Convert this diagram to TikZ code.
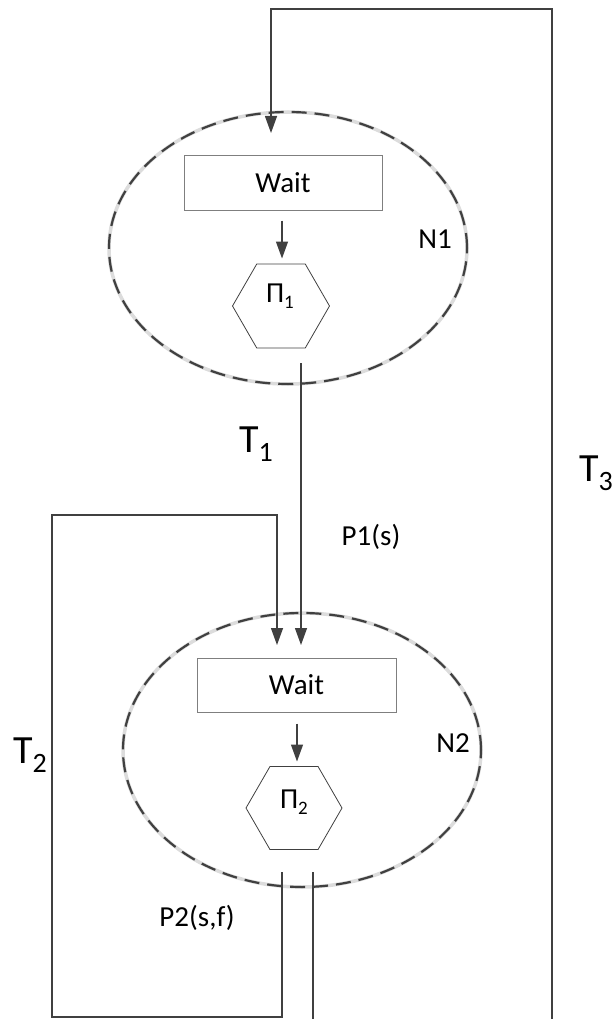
\documentclass[tikz,border=0pt]{standalone}
\usepackage{fontspec}
\setmainfont{Carlito}
\usetikzlibrary{shapes.geometric,arrows.meta}
\definecolor{ln}{HTML}{404040}
\definecolor{bx}{HTML}{7F7F7F}
\definecolor{halo}{HTML}{DCDCDC}
\begin{document}
\begin{tikzpicture}[x=1pt,y=-1pt,
  cluster/.style={ellipse, inner sep=0pt, draw=ln, line width=2.2pt,
    dash pattern=on 15pt off 8pt,
    preaction={draw=halo, line width=3.5pt, solid}},
  waitbox/.style={rectangle, draw=bx, line width=1pt, inner sep=0pt,
    minimum width=198pt, minimum height=54pt,
    font=\fontsize{29}{34}\selectfont},
  hexa/.style={regular polygon, regular polygon sides=6, draw=ln,
    line width=0.8pt, inner sep=0pt, minimum size=97pt},
  lbl/.style={inner sep=0pt, font=\fontsize{29}{34}\selectfont},
  big/.style={inner sep=0pt, font=\fontsize{40}{46}\selectfont},
  conn/.style={draw=ln, line width=1.3pt},
  arr/.style={conn, -{Triangle[length=17pt,width=12pt]}}
]
\useasboundingbox (0,0) rectangle (611,1019);

% cluster N1
\node[cluster, minimum width=358pt, minimum height=272pt] (N1) at (288,248) {};
\node[waitbox] (W1) at (283,183) {Wait};
\node[hexa] (H1) at (281,306) {};
\node[lbl] (PI1) at (280,296) {Π\raisebox{-6pt}{\fontsize{19}{20}\selectfont 1}};
\node[lbl] (N1l) at (435,239) {N1};

% cluster N2
\node[cluster, minimum width=358pt, minimum height=274pt] (N2) at (302,750) {};
\node[waitbox, minimum width=199pt] (W2) at (296.5,685) {Wait};
\node[hexa, minimum size=96pt] (H2) at (294,808) {};
\node[lbl] (PI2) at (294,802) {Π\raisebox{-6pt}{\fontsize{19}{20}\selectfont 2}};
\node[lbl] (N2l) at (453,743) {N2};

% edge labels
\node[big] (T1) at (256,444) {T\raisebox{-9pt}{\fontsize{28}{30}\selectfont 1}};
\node[big, anchor=west] (T3) at (579,473) {T\raisebox{-9pt}{\fontsize{28}{30}\selectfont 3}};
\node[big] (T2) at (30,755) {T\raisebox{-9pt}{\fontsize{28}{30}\selectfont 2}};
\node[lbl] (P1s) at (371,537) {P1(s)};
\node[lbl] (P2sf) at (197,918) {P2(s,f)};

% internal arrows
\draw[arr] ([xshift=-1pt,yshift=-10pt]W1.south) -- ++(0,38);
\draw[arr] ([xshift=0.5pt,yshift=-11pt]W2.south) -- ++(0,38);

% named end points
\coordinate (o1) at (301,363);
\coordinate (i2b) at (301,645);
\coordinate (i2a) at (277,645);
\coordinate (o2a) at (282,872);
\coordinate (o2b) at (313,872);
\coordinate (i1) at (271,133);

% T1
\draw[arr] (o1) -- (i2b);
% T2 loop
\draw[arr] (o2a) -- (282,1017) -- (52,1017) -- (52,515) -- (277,515) -- (i2a);
% T3 loop
\draw[arr] (o2b) -- (313,1035) -- (552,1035) -- (552,9) -- (271,9) -- (i1);
\end{tikzpicture}
\end{document}
